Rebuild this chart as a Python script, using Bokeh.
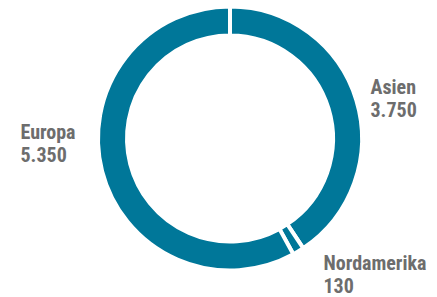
import numpy as np
from bokeh.plotting import figure
from bokeh.models import Range1d, ColumnDataSource
from bokeh.core.properties import value
from bokeh.embed import file_html
from bokeh.resources import INLINE

# Data
regions = ["Asien", "Nordamerika", "Europa"]
amounts = [3750, 130, 5350]
amount_labels = ["3.750", "130", "5.350"]

# Layout / style
W, H = 437, 297
CX, CY = 229.5, 159.0
R_OUT, R_IN = 132.0, 103.0
TEAL = "#007799"
GREY = "#6d6d6d"
FONT = "Roboto Condensed, DejaVu Sans Condensed, Roboto"

vals = np.array(amounts, dtype=float)
frac = vals / vals.sum()
cum = np.concatenate([[0.0], np.cumsum(frac)])
start = np.pi / 2 - 2 * np.pi * cum[:-1]
end = np.pi / 2 - 2 * np.pi * cum[1:]

p = figure(width=W, height=H, output_backend="svg", toolbar_location=None,
           x_range=Range1d(0, W), y_range=Range1d(0, H), min_border=0)
p.axis.visible = False
p.grid.visible = False
p.outline_line_color = None
p.background_fill_color = "white"
p.border_fill_color = "white"

src = ColumnDataSource(dict(start=start, end=end, region=regions))
p.annular_wedge(x=CX, y=CY, inner_radius=R_IN, outer_radius=R_OUT,
                start_angle="start", end_angle="end", direction="clock",
                fill_color=TEAL, line_color="white", line_width=4, source=src)

# label anchors (layout): name baseline positions
label_x = [370, 323, 20]
label_y = [211, 35, 166]
LINE = 22.5
names_src = ColumnDataSource(dict(x=label_x, y=label_y, t=regions))
vals_src = ColumnDataSource(dict(x=label_x, y=[y - LINE for y in label_y], t=amount_labels))
for s in (names_src, vals_src):
    p.text(x="x", y="y", text="t", source=s, text_font=value(FONT),
           text_font_style="bold", text_font_size="20px", text_color=GREY,
           text_baseline="alphabetic", text_align="left")

open("out.html", "w").write(file_html(p, INLINE))
